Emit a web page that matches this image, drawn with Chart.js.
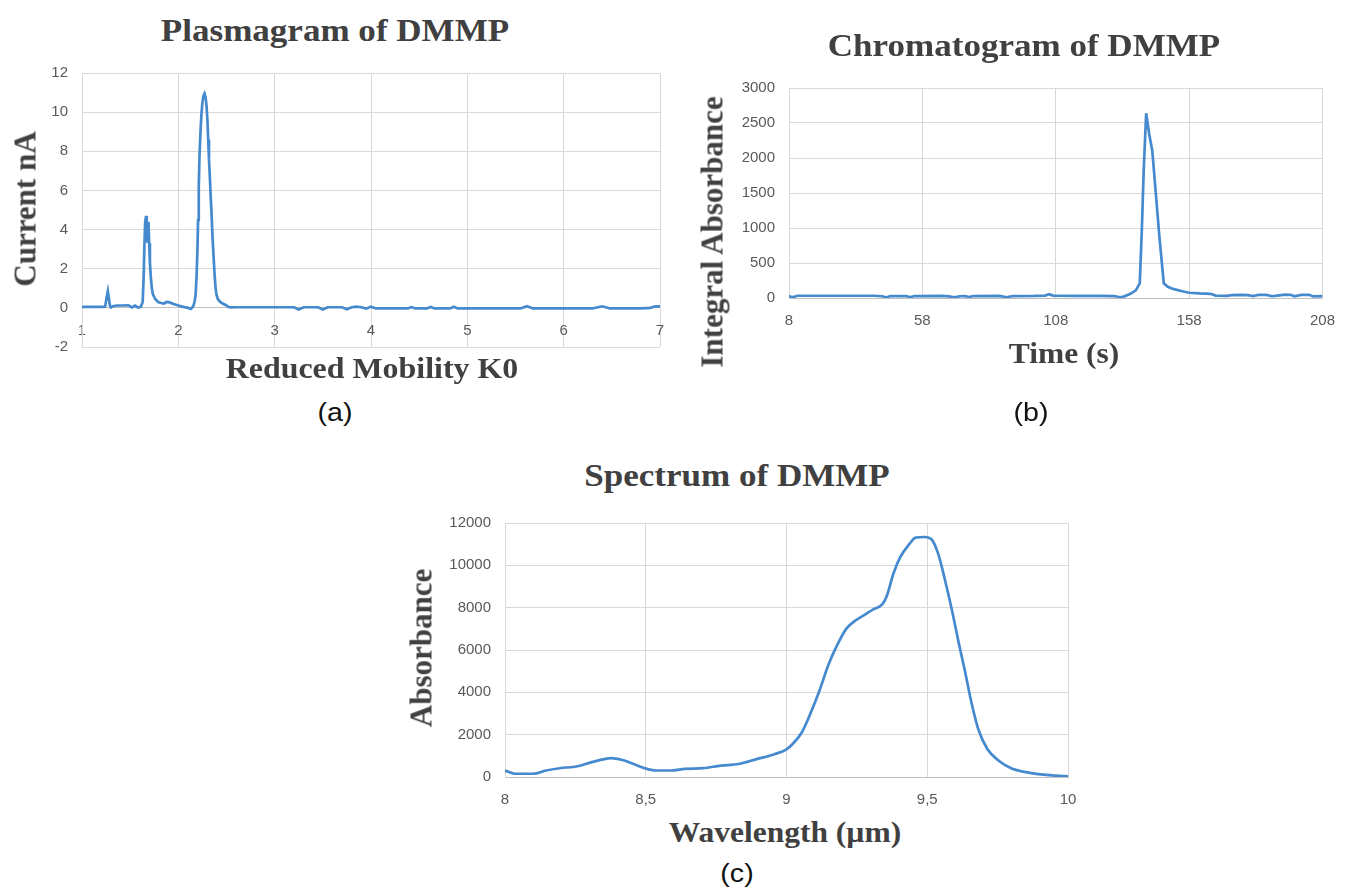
<!DOCTYPE html>
<html>
<head>
<meta charset="utf-8">
<title>DMMP</title>
<script src="https://cdn.jsdelivr.net/npm/chart.js@4.4.1/dist/chart.umd.min.js"></script>
<style>
  html, body { margin: 0; padding: 0; background: #fff; }
  #page { position: relative; width: 1349px; height: 890px; overflow: hidden; }
  #page canvas { position: absolute; }
  .lbl { position: absolute; white-space: nowrap; }
  .serif { font-family: "Liberation Serif", "Times New Roman", serif; font-weight: bold; color: #404040; }
  .sans { font-family: "Liberation Sans", Arial, sans-serif; color: #111; }
</style>
</head>
<body>
<div id="page">
  <canvas id="plasmaChart" width="700" height="320" style="left:0px;top:50px"></canvas>
  <canvas id="chromaChart" width="669" height="290" style="left:680px;top:60px"></canvas>
  <canvas id="spectrumChart" width="720" height="310" style="left:390px;top:500px"></canvas>
</div>
<script>
// --- (a) Plasmagram: reduced mobility K0 vs current nA ---
const kValues = [1.00, 1.10, 1.20, 1.24, 1.255, 1.268, 1.28, 1.29, 1.30, 1.32, 1.36, 1.42, 1.48, 1.50, 1.52, 1.55, 1.58, 1.61,
  1.63, 1.64, 1.648, 1.656, 1.665, 1.672, 1.678, 1.685, 1.69, 1.697, 1.705, 1.714, 1.725, 1.735, 1.76, 1.79, 1.82, 1.85,
  1.88, 1.91, 1.95, 2.00, 2.05, 2.10, 2.13, 2.155, 2.17, 2.18, 2.19, 2.198, 2.205, 2.212, 2.22, 2.23, 2.24, 2.25, 2.262,
  2.272, 2.283, 2.293, 2.302, 2.31, 2.318, 2.326, 2.335, 2.345, 2.355, 2.365, 2.375, 2.385, 2.395, 2.41, 2.43, 2.46, 2.49,
  2.52, 2.55, 2.6, 2.8, 3.0, 3.2, 3.25, 3.3, 3.45, 3.5, 3.55, 3.7, 3.75, 3.8, 3.85, 3.9, 3.95, 4.0, 4.05, 4.2, 4.38, 4.42,
  4.46, 4.58, 4.62, 4.66, 4.82, 4.86, 4.9, 5.2, 5.55, 5.62, 5.68, 6.0, 6.3, 6.4, 6.48, 6.8, 6.9, 6.95, 7.0];
const currentValues = [0.05, 0.05, 0.05, 0.06, 0.5, 0.85, 0.45, 0.1, 0.02, 0.08, 0.12, 0.12, 0.13, 0.08, 0.02, 0.12, 0.02, 0.05,
  0.3, 1.6, 3.2, 4.4, 4.7, 3.9, 3.4, 4.2, 4.4, 3.3, 2.3, 1.6, 1.0, 0.7, 0.45, 0.3, 0.25, 0.22,
  0.3, 0.28, 0.2, 0.12, 0.05, 0.0, -0.05, 0.08, 0.35, 0.7, 1.7, 2.9, 4.5, 6.2, 7.8, 9.0, 9.9, 10.5, 10.85,
  10.95, 10.75, 10.3, 9.6, 8.6, 7.6, 6.8, 5.8, 4.8, 3.6, 2.7, 1.8, 1.1, 0.7, 0.45, 0.33, 0.22, 0.15,
  0.05, 0.02, 0.03, 0.03, 0.03, 0.03, -0.08, 0.03, 0.03, -0.08, 0.03, 0.03, -0.07, 0.03, 0.06, 0.03, -0.04, 0.06, -0.03, -0.03, -0.03, 0.04,
  -0.03, -0.03, 0.05, -0.03, -0.03, 0.06, -0.03, -0.03, -0.03, 0.08, -0.03, -0.03, -0.03, 0.08, -0.03, -0.03, 0.0, 0.08, 0.08];
const kTicks = [1, 2, 3, 4, 5, 6, 7];
const kTickLabels = ['1', '2', '3', '4', '5', '6', '7'];
const currentTicks = [-2, 0, 2, 4, 6, 8, 10, 12];
const currentTickLabels = ['-2', '0', '2', '4', '6', '8', '10', '12'];

// --- (b) Chromatogram: time (s) vs integral absorbance ---
const timeValues = [8, 9, 10, 11, 20, 30, 40, 43, 44.5, 46, 52, 53.3, 55, 65, 68, 70, 72, 74, 75.5, 77, 87, 89.5, 92, 100,
  104, 105.5, 107, 115, 125, 130, 132, 133.5, 136, 138, 139.5, 140.3, 141, 141.9, 143, 144.2, 145.5, 146.8, 148.5, 150,
  152, 155, 158, 162, 166, 168, 172, 174, 178, 180, 182, 184, 187, 189, 191, 194, 196, 197.5, 200, 203, 204.5, 208];
const integralValues = [30, 12, 15, 32, 32, 32, 32, 25, 8, 28, 28, 10, 28, 30, 22, 8, 25, 28, 12, 28, 30, 8, 28, 30,
  35, 55, 35, 30, 30, 28, 10, 20, 60, 110, 210, 1000, 1850, 2640, 2350, 2100, 1500, 900, 210, 160,
  130, 100, 75, 65, 60, 35, 30, 40, 45, 42, 28, 45, 45, 25, 35, 48, 45, 25, 45, 45, 22, 28];
const timeTicks = [8, 58, 108, 158, 208];
const timeTickLabels = ['8', '58', '108', '158', '208'];
const integralTicks = [0, 500, 1000, 1500, 2000, 2500, 3000];
const integralTickLabels = ['0', '500', '1000', '1500', '2000', '2500', '3000'];

// --- (c) Spectrum: wavelength (µm) vs absorbance ---
const waveValues = [8.0, 8.035, 8.10, 8.146, 8.194, 8.258, 8.305, 8.353, 8.377, 8.417, 8.457, 8.496, 8.536, 8.592, 8.64,
  8.703, 8.767, 8.83, 8.894, 8.957, 9.0, 9.02, 9.053, 9.085, 9.117, 9.149, 9.18, 9.212, 9.244, 9.276, 9.308, 9.34, 9.356,
  9.38, 9.404, 9.436, 9.459, 9.491, 9.515, 9.539, 9.563, 9.587, 9.611, 9.634, 9.658, 9.682, 9.714, 9.754, 9.802, 9.85,
  9.912, 10.0];
const absorbanceValues = [308, 154, 154, 308, 415, 508, 692, 846, 892, 800, 615, 415, 308, 308, 385,
  415, 538, 615, 846, 1077, 1308, 1538, 2077, 3000, 4077, 5308, 6230, 7000, 7385, 7646, 7923, 8154, 8538,
  9615, 10385, 11000, 11308, 11338, 11230, 10538, 9308, 7923, 6385, 5000, 3462, 2231, 1308, 769, 385, 231,
  108, 30];
const waveTicks = [8, 8.5, 9, 9.5, 10];
const waveTickLabels = ['8', '8,5', '9', '9,5', '10'];
const absorbanceTicks = [0, 2000, 4000, 6000, 8000, 10000, 12000];
const absorbanceTickLabels = ['0', '2000', '4000', '6000', '8000', '10000', '12000'];

// --- Styles ---
const LINE_COLOR = '#4589cf';
const GRID_COLOR = '#d9d9d9';
const AXIS_COLOR = '#bfbfbf';
const TICK_FONT = { family: '"Liberation Sans", Arial, sans-serif', size: 15 };
const TICK_COLOR = '#595959';

function toPoints(xs, ys) {
  return xs.map((x, i) => ({ x: x, y: ys[i] }));
}

function makeAxis(min, max, ticks, labels, extra) {
  return Object.assign({
    type: 'linear',
    min: min,
    max: max,
    afterBuildTicks: (axis) => { axis.ticks = ticks.map(v => ({ value: v })); },
    ticks: {
      autoSkip: false,
      maxRotation: 0,
      color: TICK_COLOR,
      font: TICK_FONT,
      padding: 14,
      callback: (value, index) => labels[index]
    },
    grid: { color: GRID_COLOR, lineWidth: 1, drawTicks: false },
    border: { display: true, color: GRID_COLOR, width: 1 }
  }, extra || {});
}

function makeChart(canvasId, points, xAxis, yAxis, padding, smooth) {
  const ctx = document.getElementById(canvasId).getContext('2d');
  return new Chart(ctx, {
    type: 'line',
    data: {
      datasets: [{
        data: points,
        borderColor: LINE_COLOR,
        borderWidth: 2.7,
        pointRadius: 0,
        fill: false,
        tension: smooth ? 0.4 : 0,
        cubicInterpolationMode: smooth ? 'monotone' : 'default'
      }]
    },
    options: {
      responsive: false,
      animation: false,
      layout: { padding: padding },
      plugins: { legend: { display: false }, tooltip: { enabled: false }, title: { display: false } },
      scales: { x: xAxis, y: yAxis }
    }
  });
}

// (a) x axis crosses at 0 like the Excel original
makeChart('plasmaChart', toPoints(kValues, currentValues),
  makeAxis(1, 7, kTicks, kTickLabels, { position: { y: 0 }, border: { display: true, color: AXIS_COLOR, width: 1 } }),
  makeAxis(-2, 12, currentTicks, currentTickLabels, { position: 'left', afterFit: (s) => { s.width = 60; } }),
  { left: 22, top: 23, right: 40, bottom: 22 }, false);

makeChart('chromaChart', toPoints(timeValues, integralValues),
  makeAxis(8, 208, timeTicks, timeTickLabels, { position: 'bottom', afterFit: (s) => { s.height = 30; },
    border: { display: true, color: AXIS_COLOR, width: 1 } }),
  makeAxis(0, 3000, integralTicks, integralTickLabels, { position: 'left', afterFit: (s) => { s.width = 60; } }),
  { left: 49, top: 28, right: 14, bottom: 22 }, false);

makeChart('spectrumChart', toPoints(waveValues, absorbanceValues),
  makeAxis(8, 10, waveTicks, waveTickLabels, { position: 'bottom', afterFit: (s) => { s.height = 30; },
    border: { display: true, color: AXIS_COLOR, width: 1 } }),
  makeAxis(0, 12000, absorbanceTicks, absorbanceTickLabels, { position: 'left', afterFit: (s) => { s.width = 60; } }),
  { left: 55, top: 17, right: 42, bottom: 3 }, true);

// --- Text (titles, axis titles, captions) ---
const page = document.getElementById('page');

function placeText(text, cx, baseline, size, sx, cls) {
  const el = document.createElement('div');
  el.className = 'lbl ' + cls;
  el.textContent = text;
  const ascent = cls === 'serif' ? 0.8375 : 0.8465;
  el.style.fontSize = size + 'px';
  el.style.lineHeight = size + 'px';
  el.style.left = cx + 'px';
  el.style.top = (baseline - ascent * size) + 'px';
  el.style.transform = 'translateX(-50%) scaleX(' + sx + ')';
  page.appendChild(el);
}

function placeVertical(text, cx, cy, size) {
  const el = document.createElement('div');
  el.className = 'lbl serif';
  el.textContent = text;
  el.style.fontSize = size + 'px';
  el.style.lineHeight = size + 'px';
  el.style.left = cx + 'px';
  el.style.top = cy + 'px';
  el.style.transform = 'translate(-50%, -50%) rotate(-90deg)';
  page.appendChild(el);
}

placeText('Plasmagram of DMMP', 335, 41, 31, 1.13, 'serif');
placeText('Chromatogram of DMMP', 1024, 56, 31, 1.13, 'serif');
placeText('Spectrum of DMMP', 737, 486, 31, 1.13, 'serif');

placeText('Reduced Mobility K0', 372, 378, 29, 1.1, 'serif');
placeText('Time (s)', 1064, 363, 30, 1.05, 'serif');
placeText('Wavelength (µm)', 785, 842, 30, 1.05, 'serif');

placeVertical('Current nA', 24.5, 209, 31);
placeVertical('Integral Absorbance', 712, 232, 31);
placeVertical('Absorbance', 421, 648, 31);

placeText('(a)', 335, 421, 26, 1.1, 'sans');
placeText('(b)', 1031, 421, 26, 1.1, 'sans');
placeText('(c)', 737, 882, 26, 1.1, 'sans');
</script>
</body>
</html>
